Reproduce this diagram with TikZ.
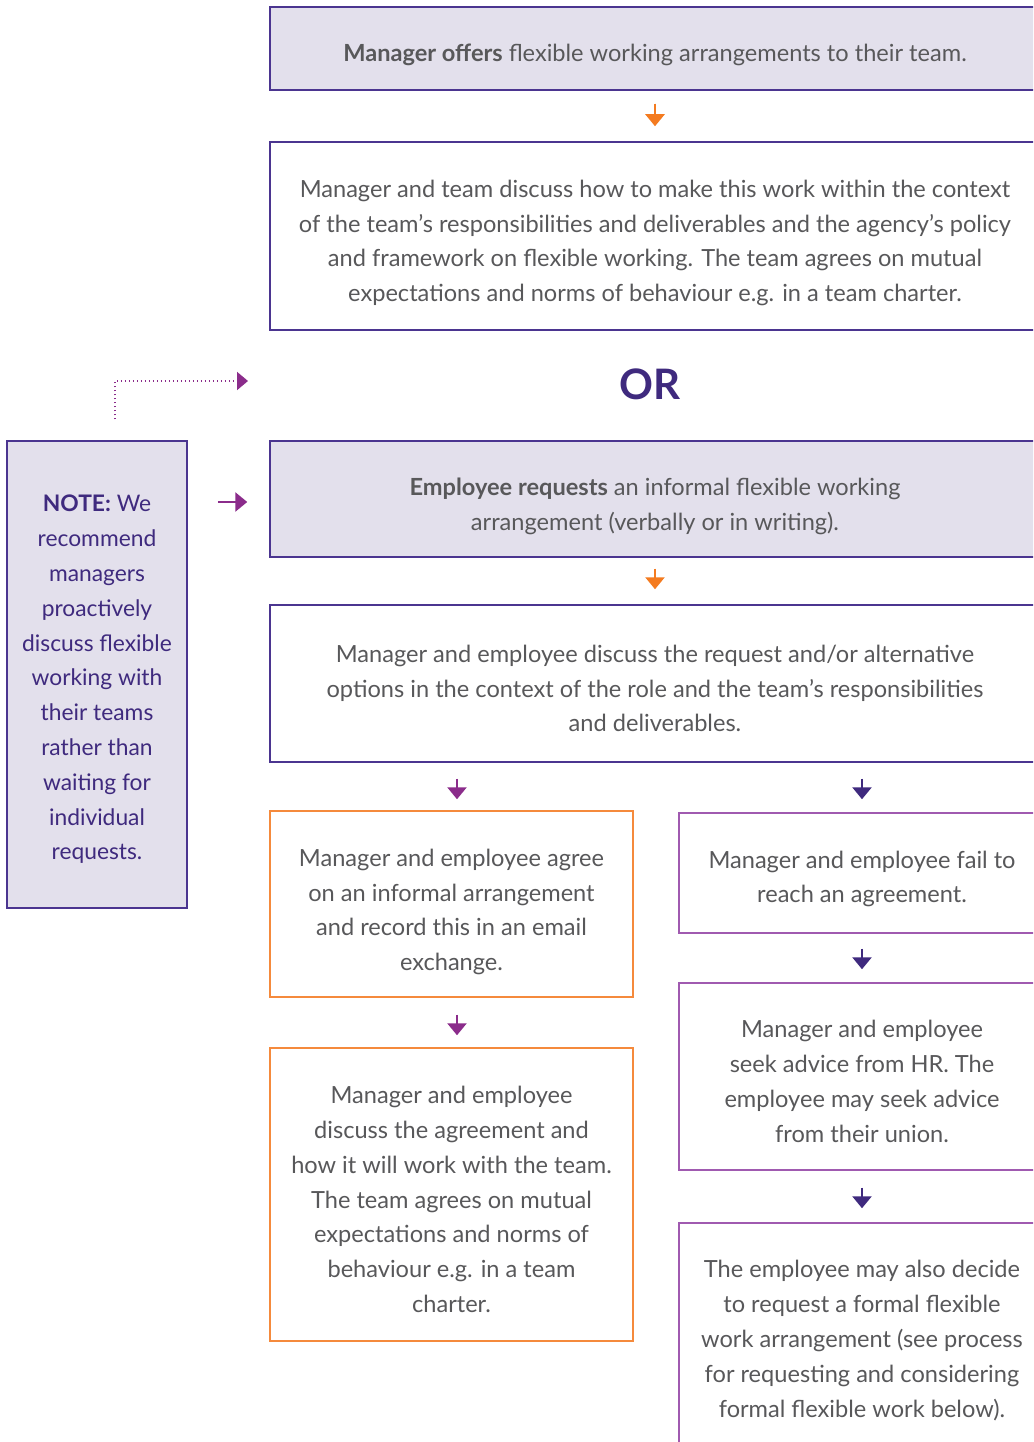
\documentclass[tikz,border=0pt]{standalone}
\usepackage{fontspec}
\setmainfont{Lato}
\usetikzlibrary{arrows.meta,calc}
\definecolor{txt}{HTML}{58585A}
\definecolor{dpurple}{HTML}{3F2A7E}
\definecolor{mag}{HTML}{8B2C8B}
\definecolor{orng}{HTML}{F47B20}
\definecolor{lav}{HTML}{E3E0EC}
\definecolor{bord}{HTML}{4B3590}
\definecolor{rbord}{HTML}{A05AB0}
\definecolor{lbord}{HTML}{F58A3C}
\begin{document}
\begin{tikzpicture}[x=1pt,y=-1pt,
  box/.style={draw=bord, line width=1.5pt, inner sep=0pt},
  lavbox/.style={box, fill=lav},
  lbox/.style={box, draw=lbord},
  rbox/.style={box, draw=rbord},
  btext/.style={inner sep=0pt, align=center,
    font=\fontsize{23.6}{34.8}\selectfont, text=txt},
  ntext/.style={btext, text=dpurple, font=\fontsize{22.8}{34.8}\selectfont},
  arrbase/.style={line width=2.6pt, -{Triangle[width=19pt,length=12pt]}},
  arrO/.style={arrbase, draw=orng, fill=orng},
  arrM/.style={arrbase, draw=mag, fill=mag},
  arrP/.style={arrbase, draw=dpurple, fill=dpurple},
  dotarr/.style={draw=mag, line width=1.8pt, dash pattern=on 1.6pt off 2.4pt,
    -{Triangle[width=18pt,length=11pt,fill=mag]}}
]
\useasboundingbox (0,0) rectangle (1033,1442);
\clip (0,0) rectangle (1033,1442);
\fill[white] (0,0) rectangle (1033,1442);

% boxes
\node[lavbox, minimum width=770pt, minimum height=83pt] (b1) at (655,48.5) {};
\node[box, minimum width=770pt, minimum height=188pt] (b2) at (655,236) {};
\node[lavbox, minimum width=770pt, minimum height=116pt] (b3) at (655,499) {};
\node[box, minimum width=770pt, minimum height=157pt] (b4) at (655,683.5) {};
\node[lbox, minimum width=363pt, minimum height=186pt] (b5) at (451.5,904) {};
\node[rbox, minimum width=366pt, minimum height=120pt] (b6) at (862,873) {};
\node[rbox, minimum width=366pt, minimum height=187pt] (b7) at (862,1076.5) {};
\node[lbox, minimum width=363pt, minimum height=293pt] (b8) at (451.5,1194.5) {};
\node[rbox, minimum width=366pt, minimum height=229pt] (b9) at (862,1337.5) {};
\node[lavbox, minimum width=180pt, minimum height=467pt] (note) at (97,674.5) {};

% texts
\node[btext] (t1) at ([yshift=-6pt]b1.center)
  {\textbf{Manager offers} flexible working arrangements to their team.};
\node[btext] (t2) at ([yshift=-7pt]b2.center)
  {Manager and team discuss how to make this work within the context\\
   of the team’s responsibilities and deliverables and the agency’s policy\\
   and framework on flexible working. The team agrees on mutual\\
   expectations and norms of behaviour e.g. in a team charter.};
\node[text=dpurple, font=\fontsize{42}{42}\selectfont\bfseries, inner sep=0pt] (or) at (650,384) {OR};
\node[btext] (t3) at ([yshift=-7pt]b3.center)
  {\textbf{Employee requests} an informal flexible working\\
   arrangement (verbally or in writing).};
\node[btext] (t4) at ([yshift=-5pt]b4.center)
  {Manager and employee discuss the request and/or alternative\\
   options in the context of the role and the team’s responsibilities\\
   and deliverables.};
\node[btext] (t5) at ([yshift=-8pt]b5.center)
  {Manager and employee agree\\ on an informal arrangement\\
   and record this in an email\\ exchange.};
\node[btext] (t6) at ([yshift=-6pt]b6.center)
  {Manager and employee fail to\\ reach an agreement.};
\node[btext] (t7) at ([yshift=-5pt]b7.center)
  {Manager and employee\\ seek advice from HR. The\\
   employee may seek advice\\ from their union.};
\node[btext] (t8) at ([yshift=-5pt]b8.center)
  {Manager and employee\\ discuss the agreement and\\ how it will work with the team.\\
   The team agrees on mutual\\ expectations and norms of\\ behaviour e.g. in a team\\ charter.};
\node[btext] (t9) at ([yshift=-3pt]b9.center)
  {The employee may also decide\\ to request a formal flexible\\
   work arrangement (see process\\ for requesting and considering\\
   formal flexible work below).};
\node[ntext] (tn) at ([yshift=-5pt]note.center)
  {\textbf{NOTE:} We\\ recommend\\ managers\\ proactively\\ discuss flexible\\
   working with\\ their teams\\ rather than\\ waiting for\\ individual\\ requests.};

\coordinate (arrY) at (0,502);
\coordinate (dotend) at (248,381);

\draw[arrO, shorten <=13pt, shorten >=15pt] (b1.south) -- (b2.north);
\draw[arrO, shorten <=11pt, shorten >=15pt] (b3.south) -- (b4.north);
\draw[arrM, shorten <=16pt, shorten >=11pt] ([xshift=5.5pt]b5.north |- b4.south) -- ([xshift=5.5pt]b5.north);
\draw[arrP, shorten <=16pt, shorten >=13pt] (b6.north |- b4.south) -- (b6.north);
\draw[arrP, shorten <=15pt, shorten >=13pt] (b6.south) -- (b7.north);
\draw[arrM, shorten <=17pt, shorten >=12pt] ([xshift=5.5pt]b5.south) -- ([xshift=5.5pt]b8.north);
\draw[arrP, shorten <=17pt, shorten >=14pt] (b7.south) -- (b9.north);
\draw[arrM, shorten <=30pt, shorten >=22pt] (note.east |- arrY) -- (b3.west |- arrY);
\draw[dotarr, shorten <=21pt] ([xshift=18pt]note.north) |- (dotend);
\end{tikzpicture}
\end{document}
